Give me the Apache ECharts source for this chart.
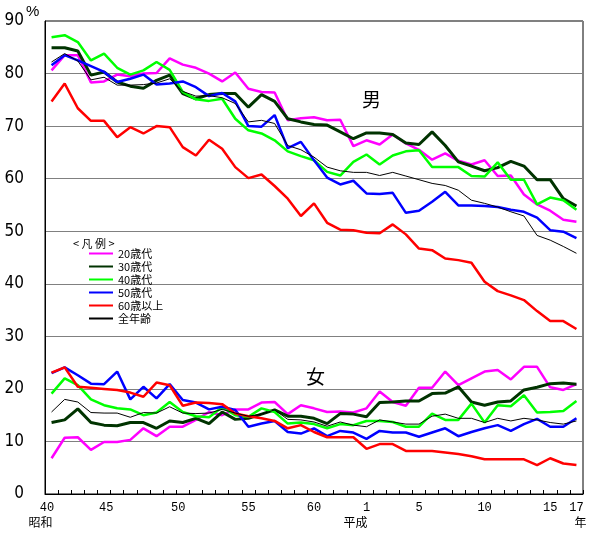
<!DOCTYPE html>
<html lang="ja">
<head>
    <meta charset="UTF-8">
    <title>喫煙率の推移</title>
    <script src="https://cdn.jsdelivr.net/npm/echarts@6/dist/echarts.min.js"></script>
    <style>
        body { margin: 0; background: #fff; }
    </style>
</head>
<body>
    <div id="chart" style="width: 597px; height: 536px;"></div>

    <script>
        // 年（昭和40年〜昭和63年, 平成1年〜平成17年）
        var years = []
        for (var y = 40; y <= 63; y++) years.push(String(y))
        for (var h = 1; h <= 17; h++) years.push(String(h))

        var shownLabels = ["40", "45", "50", "55", "60", "1", "5", "10", "15", "17"]
        var eraLabels = { "40": "昭和", "1": "平成", "17": "年" }

        var groupNames = ["20歳代", "30歳代", "40歳代", "50歳代", "60歳以上", "全年齢"]

        // #region 男
        var male20 = [80.6, 83.5, 83.5, 78.3, 78.5, 79.8, 79.5, 80.0, 80.1, 82.9, 81.7, 81.1, 80.0, 78.5, 80.2, 77.1, 76.5, 76.4, 71.1, 71.5,
            71.7, 71.1, 71.2, 66.2, 67.3, 66.5, 68.4, 66.7, 65.5, 63.6, 64.8, 63.4, 62.7, 63.5, 60.5, 60.6, 57.0, 55.1, 53.9, 52.2, 51.8]
        var male30 = [84.9, 84.9, 84.3, 79.7, 80.3, 78.4, 77.6, 77.2, 78.7, 79.7, 76.2, 75.2, 76.0, 76.2, 76.2, 73.6, 76.0, 74.7, 71.4, 70.8,
            70.3, 70.2, 68.9, 67.6, 68.7, 68.7, 68.4, 66.8, 66.5, 68.9, 66.3, 63.2, 62.4, 61.5, 62.1, 63.3, 62.4, 59.8, 59.8, 56.2, 54.8]
        var male40 = [86.9, 87.3, 86.0, 82.5, 83.8, 81.1, 79.8, 80.6, 82.2, 80.7, 76.5, 75.1, 74.8, 75.2, 71.4, 69.2, 68.6, 67.3, 65.2, 64.3,
            63.5, 61.3, 60.6, 63.2, 64.6, 62.7, 64.4, 65.2, 65.4, 62.2, 62.2, 62.2, 60.5, 60.4, 63.1, 59.8, 59.8, 55.1, 56.4, 55.9, 54.1]
        var male50 = [81.6, 83.5, 82.5, 81.4, 80.3, 78.4, 79.0, 79.8, 77.9, 78.1, 78.5, 77.4, 75.7, 76.3, 74.7, 70.0, 69.9, 72.1, 65.8, 67.0,
            63.5, 60.2, 58.9, 59.6, 57.2, 57.1, 57.3, 53.5, 53.9, 55.6, 57.5, 54.9, 54.9, 54.8, 54.6, 54.1, 53.7, 52.6, 50.2, 49.9, 48.7]
        var male60 = [74.7, 78.1, 73.4, 71.0, 71.0, 67.9, 69.8, 68.6, 70.0, 69.8, 66.0, 64.4, 67.4, 65.7, 62.2, 60.1, 60.8, 58.6, 56.2, 52.9,
            55.3, 51.6, 50.3, 50.2, 49.7, 49.6, 51.3, 49.4, 46.7, 46.4, 44.8, 44.5, 44.0, 40.4, 38.6, 37.8, 36.9, 34.8, 32.9, 32.9, 31.4]
        var maleAll = [82.2, 83.8, 82.4, 78.8, 79.3, 77.8, 77.8, 77.9, 78.2, 79.0, 76.6, 75.7, 75.8, 75.4, 74.3, 70.8, 71.1, 70.5, 66.3, 65.5,
            64.1, 62.2, 61.5, 61.2, 61.2, 60.6, 61.2, 60.5, 59.8, 59.1, 58.7, 57.8, 55.9, 55.3, 54.6, 53.7, 52.9, 49.2, 48.3, 47.1, 45.8]
        // #endregion

        // #region 女
        var female20 = [6.8, 10.7, 10.8, 8.4, 9.9, 9.9, 10.3, 12.5, 11.0, 12.8, 12.8, 14.1, 15.6, 15.0, 16.1, 16.1, 17.4, 17.5, 15.2, 16.9,
            16.3, 15.6, 15.7, 15.5, 16.3, 19.5, 17.5, 16.8, 20.2, 20.2, 23.3, 20.7, 22.0, 23.3, 23.6, 21.8, 24.2, 24.2, 20.3, 19.8, 20.9]
        var female30 = [13.6, 14.1, 16.2, 13.6, 13.1, 13.0, 13.6, 13.6, 12.5, 13.9, 13.6, 14.4, 13.4, 15.6, 14.2, 14.4, 15.2, 16.0, 14.8, 14.8,
            14.4, 13.4, 15.3, 15.2, 14.7, 17.4, 17.5, 17.7, 17.7, 19.1, 19.2, 20.4, 17.5, 16.9, 17.5, 17.7, 19.8, 20.3, 21.0, 21.1, 20.9]
        var female40 = [19.1, 22.0, 20.7, 18.0, 16.9, 16.3, 16.1, 15.0, 15.5, 17.5, 15.6, 14.8, 14.6, 16.5, 15.0, 14.7, 16.3, 15.6, 13.4, 13.6,
            13.3, 12.5, 13.3, 13.1, 13.9, 13.9, 13.7, 12.8, 12.8, 15.3, 14.1, 14.1, 17.2, 13.6, 16.9, 16.7, 18.8, 15.5, 15.6, 15.8, 17.7]
        var female50 = [23.0, 24.1, 22.6, 21.0, 20.9, 23.3, 18.0, 20.4, 18.2, 20.9, 17.9, 17.4, 16.1, 16.6, 16.0, 12.8, 13.4, 13.9, 11.8, 11.5,
            12.5, 11.0, 12.0, 11.7, 10.5, 12.0, 11.7, 11.7, 10.9, 11.7, 12.5, 11.0, 11.8, 12.5, 13.1, 12.0, 13.3, 14.3, 12.8, 12.8, 14.4]
        var female60 = [23.1, 24.1, 20.4, 20.2, 20.0, 19.8, 19.3, 18.5, 21.2, 20.7, 16.8, 17.4, 17.3, 17.1, 15.3, 14.8, 14.4, 13.9, 12.5, 13.1,
            11.8, 10.8, 10.8, 10.8, 8.6, 9.5, 9.5, 8.2, 8.2, 8.2, 7.9, 7.6, 7.2, 6.6, 6.6, 6.6, 6.6, 5.5, 6.8, 5.8, 5.5]
        var femaleAll = [15.6, 18.0, 17.5, 15.5, 15.4, 15.4, 14.6, 15.5, 15.4, 16.6, 15.4, 15.3, 15.4, 16.1, 15.4, 14.8, 15.2, 16.0, 14.2, 14.1,
            13.7, 12.9, 13.7, 13.1, 12.8, 14.1, 13.7, 13.3, 13.3, 14.8, 15.2, 14.4, 14.4, 13.6, 14.4, 13.9, 14.4, 14.1, 13.6, 13.3, 13.9]
        // #endregion

        var colors = ["#ff00ff", "#003300", "#00ff00", "#0000ff", "#ff0000", "#000000"]
        var widths = [2.5, 3, 2.5, 2.5, 2.5, 1]

        var maleData = [male20, male30, male40, male50, male60, maleAll]
        var femaleData = [female20, female30, female40, female50, female60, femaleAll]

        var cjk = "'Noto Sans CJK JP', sans-serif"
        var series = []
        function addSeries(list) {
            list.forEach(function (d, k) {
                series.push({
                    name: groupNames[k],
                    type: "line",
                    data: d,
                    showSymbol: false,
                    symbol: "none",
                    color: colors[k],
                    lineStyle: { color: colors[k], width: widths[k] },
                    itemStyle: { color: colors[k] },
                    z: k == 5 ? 3 : 2
                })
            })
        }
        addSeries(maleData)
        addSeries(femaleData)

        // x軸ラベル（数字と元号）
        function xLabel(v) {
            if (shownLabels.indexOf(v) < 0) return ""
            var numStyle = "n"
            if (v == "40" || v == "50") numStyle = "nL"
            if (v == "45") numStyle = "nLL"
            var s = "{" + numStyle + "|" + v + "}"
            if (eraLabels[v]) {
                s += "\n{" + (v == "17" ? "eR" : "e") + "|" + eraLabels[v] + "}"
            }
            return s
        }

        var chart = echarts.init(document.getElementById("chart"))
        var option = {
            animation: false,
            backgroundColor: "#fff",
            title: [
                { text: "男", left: 362, top: 90, padding: 0,
                  textStyle: { fontSize: 19, fontWeight: "normal", color: "#000", fontFamily: cjk } },
                { text: "女", left: 306, top: 367, padding: 0,
                  textStyle: { fontSize: 19, fontWeight: "normal", color: "#000", fontFamily: cjk } }
            ],
            legend: {
                data: groupNames.map(function (n) { return { name: n, icon: "rect" } }),
                orient: "vertical",
                left: 89,
                top: 247,
                padding: 0,
                itemWidth: 24,
                itemHeight: 2,
                itemGap: 0,
                lineStyle: { width: 2 },
                textStyle: { fontSize: 11, color: "#000", fontFamily: cjk, lineHeight: 13 }
            },
            graphic: [
                { type: "text", left: 73, top: 238,
                  style: { text: "< 凡 例 >", fontSize: 11, fill: "#000", fontFamily: cjk } },
                { type: "text", left: 26, top: 4,
                  style: { text: "%", fontSize: 15, fill: "#000",
                      fontFamily: "'Liberation Sans Narrow', 'Liberation Sans', sans-serif" } }
            ],
            grid: {
                left: 45, right: 14, top: 21, bottom: 42,
                show: true, borderColor: "#000", borderWidth: 1
            },
            xAxis: {
                type: "category",
                data: years,
                boundaryGap: true,
                axisLine: { lineStyle: { color: "#000", width: 1 } },
                axisTick: { show: true, inside: true, length: 4, interval: 0, lineStyle: { color: "#000" } },
                axisLabel: {
                    interval: 0,
                    margin: 6,
                    color: "#000",
                    formatter: xLabel,
                    rich: {
                        n: { fontSize: 12, fontFamily: "'Liberation Mono', monospace", lineHeight: 15 },
                        nL: { fontSize: 12, fontFamily: "'Liberation Mono', monospace", lineHeight: 15, padding: [0, 9, 0, 0] },
                        nLL: { fontSize: 12, fontFamily: "'Liberation Mono', monospace", lineHeight: 15, padding: [0, 22, 0, 0] },
                        e: { fontSize: 12, fontFamily: cjk, lineHeight: 15, padding: [0, 22, 0, 0] },
                        eR: { fontSize: 12, fontFamily: cjk, lineHeight: 15, padding: [0, 0, 0, 8] }
                    }
                },
                splitLine: { show: false }
            },
            yAxis: {
                type: "value",
                min: 0, max: 90, interval: 10,
                axisLine: { show: true, lineStyle: { color: "#000" } },
                axisTick: { show: false },
                axisLabel: { margin: 21, fontSize: 17, color: "#000",
                    fontFamily: "'Liberation Sans Narrow', 'DejaVu Sans Condensed', 'Liberation Sans', sans-serif" },
                splitLine: { lineStyle: { color: "#808080", width: 1 } }
            },
            series: series
        }
        chart.setOption(option)
    </script>
</body>
</html>
